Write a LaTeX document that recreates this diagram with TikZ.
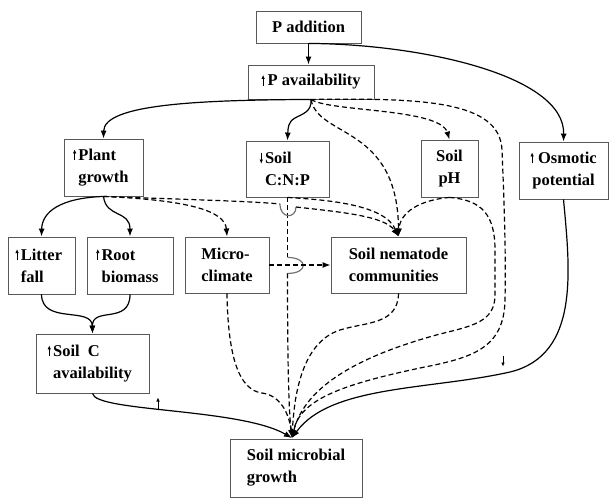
\documentclass[tikz,border=0pt]{standalone}
\usepackage{fontspec}
\setmainfont{Liberation Serif}
\usetikzlibrary{arrows.meta,calc}
\newcommand\uparr{\tikz[baseline=0pt,x=1pt,y=1pt]\draw[black,line width=0.7pt,-{Latex[length=4pt,width=3.6pt]}] (0,0)--(0,11);}
\newcommand\dnarr{\tikz[baseline=0pt,x=1pt,y=1pt]\draw[black,line width=0.7pt,-{Latex[length=4pt,width=3.6pt]}] (0,11)--(0,0);}
\begin{document}
\begin{tikzpicture}[x=1pt,y=-1pt,
  box/.style={draw=black!65, line width=0.9pt, inner sep=0pt, align=left,
    font=\bfseries\fontsize{16.5}{22}\selectfont},
  seg/.style={line width=1.2pt, black},
  dseg/.style={seg, dash pattern=on 5pt off 3pt},
  tip/.style={-{Latex[length=8pt,width=6pt]}},
  hop/.style={line width=1.2pt, draw=black!55},
  signmark/.style={inner sep=0pt}]
\useasboundingbox (0,0) rectangle (609,497);

% boxes
\node[box, minimum width=105pt, minimum height=32pt] (padd) at (308.5,27) {P addition};
\node[box, minimum width=126pt, minimum height=34pt] (pav) at (311,82) {\uparr\,P availability};
\node[box, minimum width=79pt, minimum height=57pt] (pg) at (103.5,167.5) {\llap{\uparr\hspace{2pt}}Plant\\growth};
\node[box, minimum width=83pt, minimum height=56pt] (cnp) at (287.5,169) {\llap{\dnarr\hspace{2pt}}Soil\\C:N:P};
\node[box, minimum width=57pt, minimum height=57pt, align=center] (ph) at (449.5,168.5) {Soil\\pH};
\node[box, minimum width=89pt, minimum height=57pt, align=center] (osm) at (563.5,170.5) {\uparr{} Osmotic\\potential};
\node[box, minimum width=67pt, minimum height=57pt] (lf) at (41.5,265.5) {\llap{\uparr\hspace{2pt}}Litter\\fall};
\node[box, minimum width=86pt, minimum height=57pt] (rb) at (130,265.5) {\llap{\uparr\hspace{2pt}}Root\\biomass};
\node[box, minimum width=84pt, minimum height=56pt] (mc) at (227,265) {Micro-\\climate};
\node[box, minimum width=135pt, minimum height=56pt] (nem) at (398.5,265) {Soil nematode\\communities};
\node[box, minimum width=113pt, minimum height=59pt] (sca) at (92.5,363.5) {\llap{\uparr\hspace{2pt}}Soil~ C\\availability};
\node[box, minimum width=132pt, minimum height=58pt] (smg) at (296,468) {Soil microbial\\growth};

% free signs
\node[signmark] (upc) at (158,403) {\uparr};
\node[signmark] (dnm) at (503,361) {\dnarr};

\coordinate (conv) at (292,438);

% P addition
\draw[seg,tip] (padd.south) -- (padd.south |- pav.north);
\draw[seg,tip] (padd.south) .. controls (420,44) and (565,75) .. (osm.north);

% P availability
\draw[seg,tip] (pav.south) .. controls (200,100) and (104,104) .. (pg.north);
\draw[seg,tip] (pav.south) .. controls (312,112) and (302,114) .. (295,118) .. controls (288,122) and (288,128) .. (cnp.north);
\draw[dseg,tip] (pav.south) .. controls (330,112) and (440,108) .. (ph.north);
\draw[dseg,tip] (pav.south) .. controls (318,138) and (398,125) .. (nem.north);
\draw[dseg,tip] (pav.south) .. controls (420,98) and (500,100) .. (502,150) .. controls (504,200) and (506,250) .. (505,300) .. controls (504,350) and (470,358) .. (420,368) .. controls (340,385) and (300,400) .. (conv);

% Soil pH
\draw[dseg,tip] (ph.south) .. controls (420,200) and (400,212) .. (nem.north);
\draw[dseg,tip] (ph.south) .. controls (482,200) and (495,215) .. (495,250) -- (495,295) .. controls (495,322) and (472,326) .. (440,334) .. controls (362,355) and (305,385) .. (conv);

% Osmotic potential
\draw[seg,tip] (osm.south) .. controls (570,270) and (580,355) .. (510,372) .. controls (430,390) and (330,385) .. (conv);

% Soil C:N:P
\draw[dseg,tip] (cnp.south) .. controls (330,200) and (385,205) .. (nem.north);
\coordinate (hb1) at ($(cnp.south)+(0,60)$);
\coordinate (hb2) at ($(cnp.south)+(0,76)$);
\draw[dseg] (cnp.south) -- (hb1);
\draw[hop] (hb1) .. controls +(21,0) and +(21,0) .. (hb2);
\draw[dseg,tip] (hb2) .. controls (287.5,400) and (290,420) .. (conv);

% Plant growth
\draw[seg,tip] (pg.south) .. controls (60,198) and (42,212) .. (lf.north);
\draw[seg,tip] (pg.south) .. controls (106,218) and (130,210) .. (rb.north);
\draw[dseg,tip] (pg.south) .. controls (185,200) and (225,210) .. (mc.north);
\coordinate (ha1) at (280,204);
\coordinate (ha2) at (296,207);
\draw[dseg] (pg.south) .. controls (170,199) and (250,201) .. (ha1);
\draw[hop] (ha1) .. controls (280,219) and (296,219) .. (ha2);
\draw[dseg,tip] (ha2) .. controls (340,212) and (385,216) .. (nem.north);

% litter, root -> soil C
\draw[seg,tip] (lf.south) .. controls (42,325) and (92,306) .. (sca.north);
\draw[seg,tip] (rb.south) .. controls (130,325) and (92,306) .. (sca.north);

% micro-climate
\draw[dseg,tip] (mc.east) -- (nem.west);
\draw[dseg,tip] (mc.south) .. controls (228,360) and (240,390) .. (262,393) .. controls (284,396) and (290,420) .. (conv);

% nematodes
\draw[dseg,tip] (nem.south) .. controls (398,325) and (365,322) .. (340,330) .. controls (300,343) and (294,400) .. (conv);

% soil C availability
\draw[seg,tip] (sca.south) .. controls (95,412) and (240,408) .. (conv);
\end{tikzpicture}
\end{document}
